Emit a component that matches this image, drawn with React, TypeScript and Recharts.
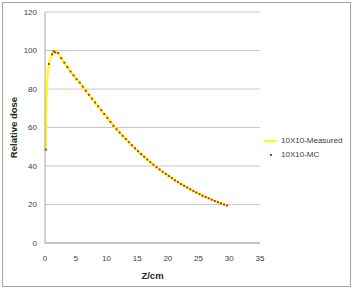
import React from 'react';
import { LineChart, Line, XAxis, YAxis, CartesianGrid, Label } from 'recharts';

const depthMC = [0.15, 0.65, 1.15, 1.4, 1.65, 2.15, 2.65, 3.15, 3.65, 4.15, 4.65, 5.15, 5.65, 6.15, 6.65, 7.15, 7.65, 8.15, 8.65, 9.15, 9.65, 10.15, 10.65, 11.15, 11.65, 12.15, 12.65, 13.15, 13.65, 14.15, 14.65, 15.15, 15.65, 16.15, 16.65, 17.15, 17.65, 18.15, 18.65, 19.15, 19.65, 20.15, 20.65, 21.15, 21.65, 22.15, 22.65, 23.15, 23.65, 24.15, 24.65, 25.15, 25.65, 26.15, 26.65, 27.15, 27.65, 28.15, 28.65, 29.15, 29.65];
const doseMC = [48.5, 93, 98, 99.6, 99, 98.7, 96, 93.7, 91.4, 89.1, 87.1, 85.1, 83.3, 81.2, 79.1, 77.0, 75.0, 73.0, 71.0, 69.0, 67.0, 65.0, 62.9, 60.9, 59.1, 57.4, 55.7, 54.0, 52.4, 50.8, 49.2, 47.7, 46.2, 44.8, 43.4, 42.0, 40.7, 39.4, 38.2, 37.0, 35.9, 34.8, 33.7, 32.6, 31.6, 30.6, 29.7, 28.8, 27.9, 27.0, 26.2, 25.4, 24.6, 23.9, 23.2, 22.5, 21.8, 21.2, 20.6, 20.0, 19.5];

const depthMeasured = [0.1, 0.3, 0.6, 1.0, 1.5, 2.0, 2.65, 3.15, 3.65, 4.15, 4.65, 5.15, 5.65, 6.15, 6.65, 7.15, 7.65, 8.15, 8.65, 9.15, 9.65, 10.15, 10.65, 11.15, 11.65, 12.15, 12.65, 13.15, 13.65, 14.15, 14.65, 15.15, 15.65, 16.15, 16.65, 17.15, 17.65, 18.15, 18.65, 19.15, 19.65, 20.15, 20.65, 21.15, 21.65, 22.15, 22.65, 23.15, 23.65, 24.15, 24.65, 25.15, 25.65, 26.15, 26.65, 27.15, 27.65, 28.15, 28.65, 29.15, 29.65];
const doseMeasured = [48, 80, 92, 97, 99.6, 99.0, 96, 93.7, 91.4, 89.1, 87.1, 85.1, 83.3, 81.2, 79.1, 77.0, 75.0, 73.0, 71.0, 69.0, 67.0, 65.0, 62.9, 60.9, 59.1, 57.4, 55.7, 54.0, 52.4, 50.8, 49.2, 47.7, 46.2, 44.8, 43.4, 42.0, 40.7, 39.4, 38.2, 37.0, 35.9, 34.8, 33.7, 32.6, 31.6, 30.6, 29.7, 28.8, 27.9, 27.0, 26.2, 25.4, 24.6, 23.9, 23.2, 22.5, 21.8, 21.2, 20.6, 20.0, 19.5];

const xTicks = [0, 5, 10, 15, 20, 25, 30, 35];
const yTicks = [0, 20, 40, 60, 80, 100, 120];
const seriesNames = ['10X10-Measured', '10X10-MC'];

const mcData = depthMC.map((z, i) => ({ z, dose: doseMC[i] }));
const measuredData = depthMeasured.map((z, i) => ({ z, dose: doseMeasured[i] }));

const FONT = '"Liberation Sans", Arial, sans-serif';
const RED = '#D0301E';
const YELLOW = '#FFFF00';

const McDot = (props: any) => {
  const { cx, cy } = props;
  if (cx == null || cy == null) return null;
  return <rect x={cx - 1} y={cy - 1} width={2} height={2} fill={RED} />;
};

export default function App() {
  return (
    <div style={{ position: 'relative', width: 353, height: 288, background: '#fff', fontFamily: FONT }}>
      <style>{`body{margin:0}`}</style>
      <div style={{ position: 'absolute', left: 2, top: 2, width: 347, height: 283, border: '1px solid #A6A6A6', boxSizing: 'content-box' }} />
      <LineChart width={353} height={288} margin={{ top: 12, right: 93, bottom: 15, left: 0 }}>
        <CartesianGrid vertical={false} stroke="#C8C8C8" />
        <XAxis
          type="number"
          dataKey="z"
          domain={[0, 35]}
          ticks={xTicks}
          tickLine={false}
          tickSize={0}
          tickMargin={12}
          height={30}
          stroke="#A6A6A6"
          tick={{ fill: '#404040', fontSize: 8, fontFamily: FONT }}
          allowDuplicatedCategory={false}
        >
          <Label value="Z/cm" position="insideBottom" offset={-6} style={{ fontWeight: 'bold', fontSize: 9.5, fill: '#262626', fontFamily: FONT }} />
        </XAxis>
        <YAxis
          type="number"
          domain={[0, 120]}
          ticks={yTicks}
          tickLine={false}
          tickSize={0}
          tickMargin={8}
          width={45}
          stroke="#A6A6A6"
          tick={{ fill: '#404040', fontSize: 8, fontFamily: FONT }}
        >
          <Label value="Relative dose" angle={-90} position="insideLeft" offset={14} style={{ textAnchor: 'middle', fontWeight: 'bold', fontSize: 9.5, fill: '#262626', fontFamily: FONT }} />
        </YAxis>
        <Line data={measuredData} dataKey="dose" type="monotone" stroke={YELLOW} strokeWidth={2.2} dot={false} isAnimationActive={false} name={seriesNames[0]} />
        <Line data={mcData} dataKey="dose" stroke="none" dot={<McDot />} isAnimationActive={false} name={seriesNames[1]} />
      </LineChart>
      <div style={{ position: 'absolute', left: 264, top: 134, fontSize: 8, color: '#404040', lineHeight: '14px' }}>
        <div style={{ display: 'flex', alignItems: 'center' }}>
          <span style={{ display: 'inline-block', width: 13, height: 2, background: YELLOW, marginRight: 4 }} />
          <span>{seriesNames[0]}</span>
        </div>
        <div style={{ display: 'flex', alignItems: 'center' }}>
          <span style={{ display: 'inline-block', width: 13, height: 2, position: 'relative', marginRight: 4 }}>
            <span style={{ position: 'absolute', left: 5.5, top: 0, width: 2, height: 2, background: RED }} />
          </span>
          <span>{seriesNames[1]}</span>
        </div>
      </div>
    </div>
  );
}
